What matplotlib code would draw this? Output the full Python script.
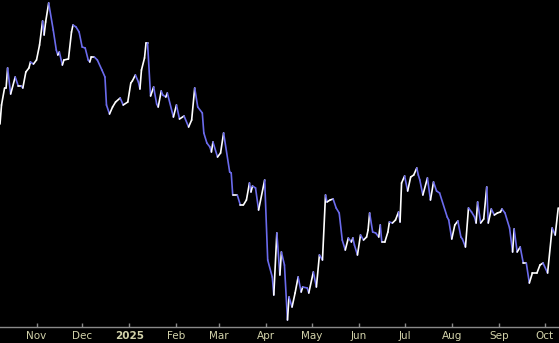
import numpy as np
import pandas as pd
import matplotlib
matplotlib.use("Agg")
import matplotlib.pyplot as plt
import matplotlib.dates as mdates
from matplotlib.collections import LineCollection

# data: days after the start date, and the price on that day
start = pd.Timestamp("2024-10-08")
days = [0, 1, 3, 4, 5, 7, 10, 12, 14, 15,
        17, 19, 20, 22, 24, 26, 28, 29, 30, 32,
        35, 37, 38, 39, 41, 42, 45, 47, 48, 50,
        52, 54, 56, 58, 59, 60, 62, 64, 67, 69,
        70, 72, 74, 76, 79, 81, 84, 86, 87, 89,
        91, 92, 93, 95, 96, 97, 99, 101, 103, 104,
        106, 107, 109, 110, 114, 116, 118, 121, 124, 126,
        128, 130, 133, 134, 136, 138, 139, 140, 143, 145,
        147, 151, 152, 153, 156, 158, 160, 162, 164, 165,
        166, 168, 170, 174, 176, 179, 180, 182, 184, 185,
        187, 189, 190, 192, 194, 196, 198, 199, 202, 203,
        206, 208, 210, 212, 214, 215, 217, 219, 221, 223,
        225, 227, 229, 231, 232, 233, 235, 237, 239, 241,
        242, 243, 245, 247, 249, 250, 251, 253, 255, 256,
        258, 260, 262, 263, 264, 266, 268, 270, 272, 274,
        275, 276, 278, 281, 283, 285, 287, 289, 294, 295,
        297, 299, 301, 303, 304, 306, 308, 310, 312, 313,
        314, 316, 318, 320, 321, 323, 325, 327, 329, 330,
        332, 335, 337, 338, 340, 342, 344, 346, 348, 350,
        353, 355, 357, 360, 363, 365, 367]
price = [87.6, 89.5, 91.2, 91.2, 93.2, 90.6, 92.3, 91.4, 91.4, 91.2,
         92.8, 93.2, 93.8, 93.6, 94.0, 95.5, 97.9, 96.5, 97.8, 99.7,
         97.0, 95.0, 94.5, 94.8, 93.5, 94.0, 94.1, 96.8, 97.5, 97.3,
         96.8, 95.3, 95.2, 94.0, 93.8, 94.3, 94.3, 94.0, 93.0, 92.3,
         89.5, 88.6, 89.3, 89.8, 90.2, 89.5, 89.8, 91.7, 91.9, 92.5,
         91.8, 91.1, 93.0, 94.2, 95.7, 95.7, 90.4, 91.3, 89.6, 89.3,
         90.9, 90.5, 90.3, 90.7, 88.3, 89.5, 88.1, 88.4, 87.3, 88.0,
         91.2, 89.3, 88.7, 86.7, 85.7, 85.3, 84.8, 85.8, 84.3, 84.7,
         86.7, 82.8, 82.7, 80.5, 80.5, 79.5, 79.5, 80.0, 81.7, 80.8,
         81.4, 81.2, 79.0, 82.0, 74.0, 72.3, 70.5, 76.7, 72.5, 74.8,
         73.5, 68.0, 70.3, 69.3, 70.7, 72.3, 70.8, 71.3, 71.2, 70.7,
         72.8, 71.3, 74.5, 74.0, 80.5, 79.8, 80.0, 80.1, 79.2, 78.7,
         76.0, 75.0, 76.2, 75.8, 76.2, 75.5, 74.5, 76.5, 76.0, 76.3,
         77.0, 78.7, 76.8, 76.7, 76.3, 77.5, 75.8, 75.8, 76.8, 77.8,
         77.7, 78.0, 78.8, 77.8, 81.7, 82.4, 80.9, 82.3, 82.5, 83.2,
         82.5, 82.0, 80.5, 82.2, 80.0, 81.8, 80.9, 80.7, 78.3, 78.0,
         76.1, 77.5, 77.9, 76.3, 76.1, 75.3, 79.2, 78.8, 78.3, 77.7,
         79.8, 77.7, 78.1, 81.3, 77.7, 79.1, 78.5, 78.7, 78.8, 79.1,
         78.7, 77.2, 74.8, 77.1, 74.8, 75.3, 73.7, 73.7, 71.7, 72.7,
         72.7, 73.5, 73.7, 72.7, 77.2, 76.5, 79.2]

month_ticks = ["2024-11-01", "2024-12-01", "2025-01-01", "2025-02-01", "2025-03-01",
               "2025-04-01", "2025-05-01", "2025-06-01", "2025-07-01", "2025-08-01",
               "2025-09-01", "2025-10-01"]
month_labels = ["Nov", "Dec", "2025", "Feb", "Mar", "Apr", "May", "Jun", "Jul", "Aug", "Sep", "Oct"]

UP = "#ffffff"
DOWN = "#6b6bec"

dates = [start + pd.Timedelta(days=d) for d in days]
x = mdates.date2num(dates)
y = np.array(price)

pts = np.column_stack([x, y]).reshape(-1, 1, 2)
segs = np.concatenate([pts[:-1], pts[1:]], axis=1)
cols = [UP if y[i + 1] >= y[i] else DOWN for i in range(len(y) - 1)]

fig = plt.figure(figsize=(5.59, 3.43), dpi=100, facecolor="black")
ax = fig.add_axes([0, 16 / 343, 1, 327 / 343], facecolor="black")

lc = LineCollection(segs, colors=cols, linewidths=1.2, capstyle="round", joinstyle="round")
ax.add_collection(lc)

ax.set_xlim(mdates.date2num(start), mdates.date2num(start + pd.Timedelta(days=367.5)))
ax.set_ylim(67.3, 100)

for s in ["top", "left", "right"]:
    ax.spines[s].set_visible(False)
ax.spines["bottom"].set_color("#8a8a8a")
ax.spines["bottom"].set_linewidth(1.0)

ax.set_yticks([])
ax.set_xticks(mdates.date2num(pd.to_datetime(month_ticks)))
ax.set_xticklabels(month_labels)
ax.tick_params(axis="x", direction="in", length=3, width=1, color="#8a8a8a",
               labelcolor="#d2d2aa", labelsize=7.5, pad=3)
for lbl in ax.get_xticklabels():
    if lbl.get_text() == "2025":
        lbl.set_fontweight("bold")

fig.savefig("out.png", dpi=100, facecolor="black")
